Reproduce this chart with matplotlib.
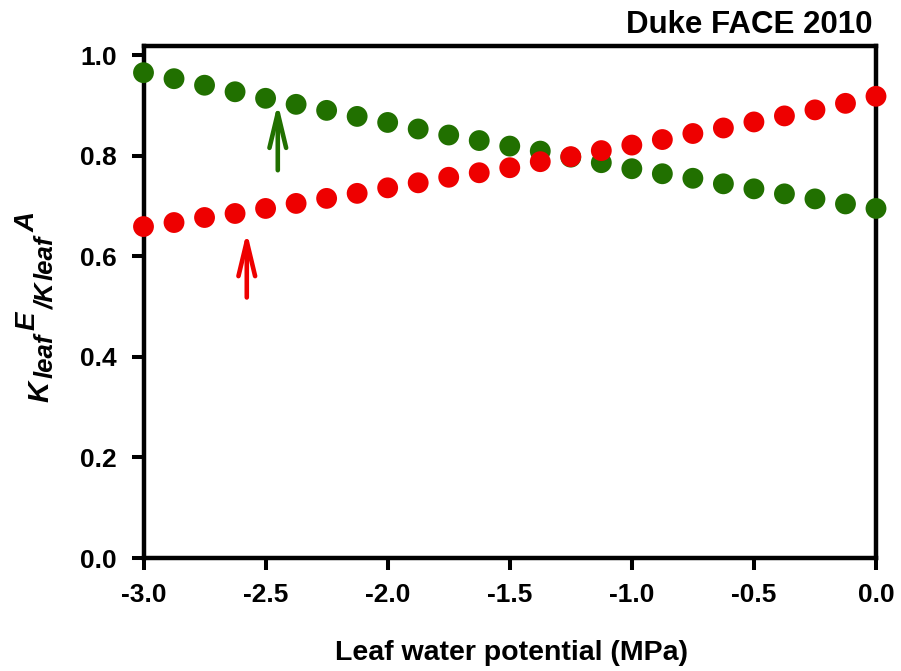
import matplotlib
matplotlib.use("Agg")
import matplotlib.pyplot as plt
from matplotlib.transforms import IdentityTransform

plt.rcParams['font.family'] = ['Liberation Sans', 'DejaVu Sans']
plt.rcParams['font.weight'] = 'bold'

psi = [-3.0, -2.875, -2.75, -2.625, -2.5, -2.375, -2.25, -2.125, -2.0, -1.875,
       -1.75, -1.625, -1.5, -1.375, -1.25, -1.125, -1.0, -0.875, -0.75, -0.625,
       -0.5, -0.375, -0.25, -0.125, 0.0]
green_vals = [0.965, 0.953, 0.940, 0.927, 0.914, 0.902, 0.890, 0.878, 0.866, 0.853,
              0.841, 0.830, 0.819, 0.809, 0.797, 0.786, 0.774, 0.764, 0.755, 0.744,
              0.734, 0.724, 0.714, 0.704, 0.695]
red_vals = [0.659, 0.667, 0.677, 0.685, 0.695, 0.705, 0.715, 0.725, 0.736, 0.746,
            0.757, 0.766, 0.776, 0.788, 0.798, 0.810, 0.821, 0.832, 0.844, 0.855,
            0.867, 0.879, 0.891, 0.904, 0.918]
green_arrow = (-2.450, 0.771, 0.904)  # x, y_start, y_tip
red_arrow = (-2.577, 0.518, 0.649)
xticks = [-3.0, -2.5, -2.0, -1.5, -1.0, -0.5, 0.0]
yticks = [0.0, 0.2, 0.4, 0.6, 0.8, 1.0]
title_text = 'Duke FACE 2010'
xlabel_text = 'Leaf water potential (MPa)'
# y-label pieces: (text, fontsize, baseline shift px (neg = raised))
ylabel_pieces = [('K', 21, 0), ('leaf', 18.5, 5), ('E', 20, -13),
                 ('/K', 19, 5), ('leaf', 18.5, 5), ('A', 20, -13)]

GREEN = '#217000'
RED = '#ee0000'

W, H = 901, 671
fig = plt.figure(figsize=(W / 100, H / 100), dpi=100)
ax = fig.add_axes([143.5 / W, 1 - 558 / H, (876 - 143.5) / W, (558 - 46) / H])

ax.scatter(psi, green_vals, s=225, color=GREEN, edgecolors='none', zorder=3, clip_on=False)
ax.scatter(psi, red_vals, s=225, color=RED, edgecolors='none', zorder=4, clip_on=False)

for (x, y0, y1), c in [(green_arrow, GREEN), (red_arrow, RED)]:
    ax.annotate('', xy=(x, y1), xytext=(x, y0),
                arrowprops=dict(arrowstyle='->,head_length=2.5,head_width=0.6',
                                color=c, lw=3.3, shrinkA=0, shrinkB=0))

ax.set_xlim(-3.0, 0.0)
ax.set_ylim(0.0, 1.018)
ax.set_xticks(xticks)
ax.set_yticks(yticks)
ax.set_xticklabels([f"{v:.1f}" for v in xticks])
ax.set_yticklabels([f"{v:.1f}" for v in yticks])
ax.tick_params(direction='out', length=8.5, width=2.9, labelsize=19)
ax.tick_params(axis='x', pad=9.5)
ax.tick_params(axis='y', pad=10.5)
for lab in ax.get_xticklabels() + ax.get_yticklabels():
    lab.set_fontweight('bold')
for sp in ax.spines.values():
    sp.set_linewidth(3.2)

ident = IdentityTransform()
fig.text(873, H - 33, title_text, transform=ident, ha='right', va='baseline',
         fontsize=22.5, fontweight='bold')
fig.text(511.5, H - 660, xlabel_text, transform=ident, ha='center', va='baseline',
         fontsize=20.5, fontweight='bold')

renderer = fig.canvas.get_renderer()
base_x = 48
y = H - 402
for s, fs, shift in ylabel_pieces:
    t = fig.text(base_x + shift, y, s, transform=ident, rotation=90,
                 rotation_mode='anchor', ha='left', va='baseline',
                 fontsize=fs, fontweight='bold', fontstyle='italic')
    y += t.get_window_extent(renderer).height + 3

fig.savefig('out.png', dpi=100)
